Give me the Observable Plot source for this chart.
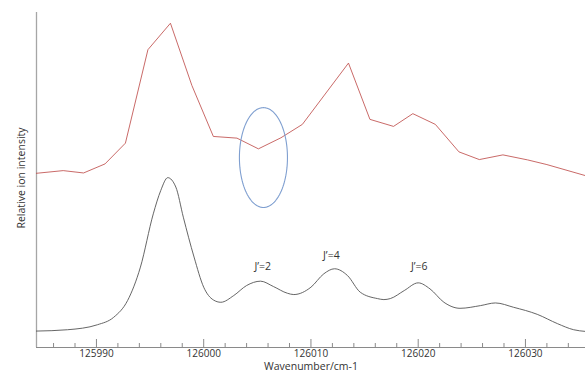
<!DOCTYPE html>
<html><head><meta charset="utf-8">
<script src="https://cdn.jsdelivr.net/npm/d3@7"></script>
<script src="https://cdn.jsdelivr.net/npm/@observablehq/plot@0.6"></script>
<style>html,body{margin:0;padding:0;background:#fff}svg{display:block}</style>
</head><body><div id="chart"></div>
<script>
// Experimental spectrum (red)
const expWavenumber = [125984.4,125986.9,125988.8,125990.8,125992.7,125994.8,125996.9,125998.9,126000.9,126003.1,126005.1,126007.2,126009.2,126013.5,126015.5,126017.7,126019.5,126021.6,126023.8,126025.7,126027.9,126030.2,126032.0,126035.6];
const expIntensity  = [52.0,52.8,52.1,54.8,61.0,88.9,96.8,78.2,63.0,62.5,59.3,62.6,66.6,84.9,68.1,66.0,69.8,66.6,58.4,56.1,57.5,56.0,54.6,51.3];
// Simulated spectrum (black)
const simWavenumber = [125984.4,125987.3,125990.1,125991.6,125992.9,125994.1,125995.3,125996.0,125996.65,125997.4,125998.1,125999.1,126000.0,126000.9,126001.6,126002.8,126004.0,126005.3,126006.5,126007.8,126008.4,126010.0,126011.2,126012.2,126013.4,126014.6,126016.2,126016.8,126017.4,126018.7,126020.0,126021.1,126022.4,126023.9,126025.8,126027.2,126028.9,126031.1,126033.0,126034.5,126035.6];
const simIntensity  = [4.9,5.3,6.8,9.0,14.0,24.0,39.9,46.9,50.7,47.9,38.9,27.0,18.0,14.2,13.5,15.5,18.5,19.8,18.2,16.2,15.8,18.0,22.0,23.5,21.5,16.5,14.6,14.3,14.6,17.0,19.3,17.5,13.5,11.7,12.5,13.3,12.0,9.9,7.1,5.3,4.8];
// Peak labels
const peakLabels = ["J\u2019=2","J\u2019=4","J\u2019=6"];
const peakLabelX = [126005.5,126011.9,126020.1];
const peakLabelY = [24.2,27.5,24.0];
// Axes
const xDomain = [125984.41,126035.6];
const yDomain = [0,100];
const majorTicks = [125990,126000,126010,126020,126030];
const minorTicks = d3.range(125986,126036,2).filter(t => !majorTicks.includes(t));
const xLabel = "Wavenumber/cm-1";
const yLabel = "Relative ion intensity";
// Highlight ellipse (annotation): centre and radii in data units
const ellipseCx = 126005.57, ellipseCy = 56.7, ellipseRx = 2.24, ellipseRy = 14.9;
const ellipsePts = d3.range(0, 361, 3).map(a => ({
  x: ellipseCx + ellipseRx * Math.cos(a * Math.PI / 180),
  y: ellipseCy + ellipseRy * Math.sin(a * Math.PI / 180)
}));

const expData = expWavenumber.map((x, i) => ({x, y: expIntensity[i]}));
const simData = simWavenumber.map((x, i) => ({x, y: simIntensity[i]}));
const labelData = peakLabels.map((t, i) => ({t, x: peakLabelX[i], y: peakLabelY[i]}));

const chart = Plot.plot({
  width: 585, height: 371,
  marginLeft: 36, marginRight: 0, marginTop: 12, marginBottom: 24,
  style: {fontFamily: "'Open Sans', Lato, sans-serif", fontSize: "10px", color: "#333", background: "#fff"},
  x: {domain: xDomain},
  y: {domain: yDomain},
  marks: [
    Plot.ruleX(minorTicks, {x: d => d, stroke: "#8a8a8a", insetTop: 331}),
    Plot.ruleX(majorTicks, {x: d => d, stroke: "#8a8a8a", insetTop: 327}),
    Plot.ruleY([yDomain[0]], {stroke: "#8a8a8a"}),
    Plot.ruleX([xDomain[0]], {stroke: "#a6a6a6", strokeWidth: 1.3}),
    Plot.axisX({ticks: majorTicks, tickSize: 0, tickPadding: 2, tickFormat: d => String(d), label: null, fontSize: 10, color: "#333"}),
    Plot.axisY({ticks: [], label: null, tickSize: 0}),
    Plot.line(expData, {x: "x", y: "y", stroke: "#c0504d", strokeWidth: 1, strokeOpacity: 0.85}),
    Plot.line(simData, {x: "x", y: "y", stroke: "#555", strokeWidth: 0.9, curve: "monotone-x"}),
    Plot.line(ellipsePts, {x: "x", y: "y", stroke: "#7f9fd0", strokeWidth: 1.1, curve: "linear"}),
    Plot.text(labelData, {x: "x", y: "y", text: "t", fontSize: 10.5, fill: "#333"}),
    Plot.text([xLabel], {frameAnchor: "bottom", dy: 22, text: d => d, fontSize: 10.5, fill: "#333"}),
    Plot.text([yLabel], {frameAnchor: "left", textAnchor: "middle", rotate: -90, dx: -15, dy: -2, text: d => d, fontSize: 10.5, fill: "#333"})
  ]
});
document.getElementById("chart").appendChild(chart);
</script></body></html>
